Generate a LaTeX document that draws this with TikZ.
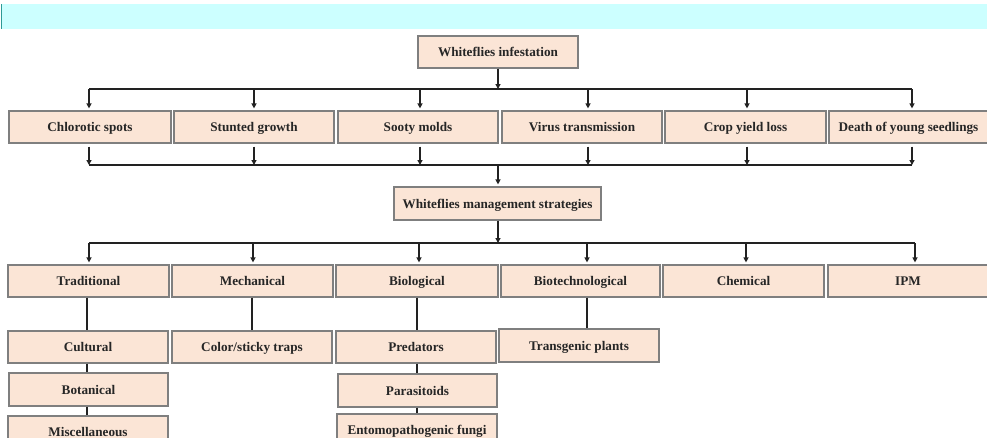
\documentclass[tikz,border=0pt]{standalone}
\usepackage{fontspec}
\setmainfont{Liberation Serif}
\usetikzlibrary{arrows.meta}
\definecolor{peach}{HTML}{FBE5D6}
\definecolor{boxline}{HTML}{7F7F7F}
\definecolor{band}{HTML}{CCFFFF}
\definecolor{teal}{HTML}{2E9A96}
\definecolor{conn}{HTML}{222222}
\tikzset{
  box/.style={draw=boxline, line width=1.2pt, fill=peach, inner sep=0pt,
    minimum width=161pt, minimum height=32pt, text height=10.6pt, text depth=1.4pt,
    font=\fontsize{13.2}{15}\selectfont\bfseries, text=black!85},
  arr/.style={draw=conn, line width=1.6pt, -{Triangle[length=5pt,width=5pt]}},
  lnk/.style={draw=conn, line width=1.6pt},
}
\begin{document}
\begin{tikzpicture}[x=1pt,y=-1pt]
\useasboundingbox (0,0) rectangle (987,437);
\clip (0,0) rectangle (987,437);
% top band
\fill[band] (1,4) rectangle (987,29);
\draw[teal, line width=1.5pt] (1.5,4) -- (1.5,29);

% nodes
\node[box, minimum width=160pt] (top) at (498,52) {Whiteflies infestation};

\node[box, minimum width=162pt] (chl) at (90,127) {Chlorotic spots};
\node[box, minimum width=160pt] (stu) at (254,127) {Stunted growth};
\node[box, minimum width=160pt] (soo) at (418,127) {Sooty molds};
\node[box, minimum width=160pt] (vir) at (582,127) {Virus transmission};
\node[box, minimum width=161pt] (cro) at (745.5,127) {Crop yield loss};
\node[box, minimum width=159pt] (dea) at (908.5,127) {Death of young seedlings};

\node[box, minimum width=207pt, minimum height=33pt] (mgt) at (497.5,203.5) {Whiteflies management strategies};

\node[box] (tra) at (88.5,281) {Traditional};
\node[box] (mec) at (252.5,281) {Mechanical};
\node[box, minimum width=162pt] (bio) at (417,281) {Biological};
\node[box, minimum width=159pt] (btc) at (580.5,281) {Biotechnological};
\node[box] (che) at (743.5,281) {Chemical};
\node[box, minimum width=160pt] (ipm) at (908,281) {IPM};

\node[box, minimum width=160pt] (cul) at (88,347) {Cultural};
\node[box, minimum width=160pt] (col) at (252,347) {Color/sticky traps};
\node[box, minimum width=160pt] (pre) at (416,347) {Predators};
\node[box, minimum width=160pt, minimum height=33pt] (tgp) at (579,345.5) {Transgenic plants};

\node[box, minimum width=159pt, minimum height=33pt] (bot) at (88.5,389.5) {Botanical};
\node[box, minimum width=159pt, minimum height=33pt] (par) at (417.5,390.5) {Parasitoids};

\node[box, minimum width=160pt] (mis) at (88,432) {Miscellaneous};
\node[box, minimum width=160pt] (ent) at (417,430) {Entomopathogenic fungi};

% bus coordinates
\coordinate (busA) at (498,89);
\coordinate (busB) at (498,165);
\coordinate (busC) at (498,243);

% top -> bus A
\draw[arr] (top.south) -- (busA);
\draw[lnk] (89,89) -- (912,89);
\foreach \xx/\nn in {89/chl,254/stu,420/soo,588/vir,747/cro,912/dea}{
  \draw[arr, shorten >=2pt] (\xx,89) -- (\xx,89 |- \nn.north);
}
% row1 -> bus B
\foreach \xx/\nn in {89/chl,254/stu,420/soo,588/vir,747/cro,912/dea}{
  \draw[arr, shorten <=3pt] (\xx,89 |- \nn.south) -- (\xx,165);
}
\draw[lnk] (89,165) -- (912,165);
\draw[arr, shorten >=2pt] (busB) -- (busB |- mgt.north);

% mgt -> bus C
\draw[arr] (busC |- mgt.south) -- (busC);
\draw[lnk] (89,243) -- (915,243);
\foreach \xx/\nn in {89/tra,253/mec,419/bio,587/btc,746/che,915/ipm}{
  \draw[arr, shorten >=2pt] (\xx,243) -- (\xx,243 |- \nn.north);
}

% sub-links
\draw[lnk] (87,243 |- tra.south) -- (87,243 |- cul.north);
\draw[lnk] (252,243 |- mec.south) -- (252,243 |- col.north);
\draw[lnk] (417,243 |- bio.south) -- (417,243 |- pre.north);
\draw[lnk] (587,243 |- btc.south) -- (587,243 |- tgp.north);
\draw[lnk] (87,243 |- cul.south) -- (87,243 |- bot.north);
\draw[lnk] (87,243 |- bot.south) -- (87,243 |- mis.north);
\draw[lnk] (417,243 |- pre.south) -- (417,243 |- par.north);
\draw[lnk] (417,243 |- par.south) -- (417,243 |- ent.north);
\end{tikzpicture}
\end{document}
